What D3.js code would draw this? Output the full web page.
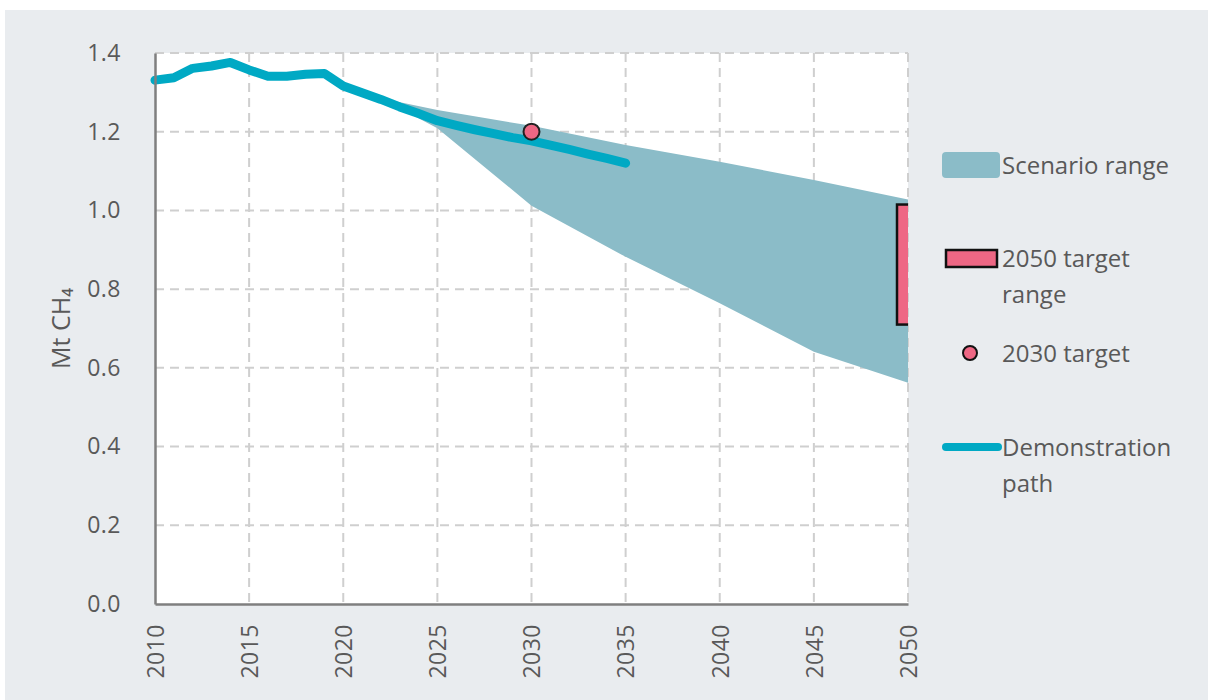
<!DOCTYPE html>
<meta charset="utf-8">
<style>
body {
  margin: 0px;
  background-color: white;
}
svg text {
  font-family: "Open Sans", sans-serif;
  fill: #595959;
}
.grid line {
  stroke: #cfcfcf;
  stroke-width: 2px;
  stroke-dasharray: 9 6;
}
.demo {
  fill: none;
  stroke: #00a9c4;
  stroke-width: 9px;
  stroke-linecap: round;
  stroke-linejoin: round;
}
</style>
<svg width="1208" height="700"></svg>
<script src="https://cdn.jsdelivr.net/npm/d3@7"></script>
<script>

// demonstration path, one value per year
var demoYears = [2010, 2011, 2012, 2013, 2014, 2015, 2016, 2017, 2018, 2019, 2020, 2021, 2022,
                 2023, 2024, 2025, 2026, 2027, 2028, 2029, 2030, 2031, 2032, 2033, 2034, 2035];
var demoValues = [1.331, 1.337, 1.361, 1.367, 1.376, 1.357, 1.341, 1.341, 1.346, 1.348, 1.316, 1.299, 1.282,
                  1.263, 1.246, 1.228, 1.216, 1.205, 1.195, 1.185, 1.177, 1.166, 1.155, 1.143, 1.132, 1.12];

// scenario range
var bandYears = [2022, 2025, 2030, 2035, 2040, 2045, 2050];
var bandLow  = [1.285, 1.209, 1.012, 0.882, 0.764, 0.641, 0.562];
var bandHigh = [1.285, 1.255, 1.215, 1.166, 1.124, 1.077, 1.028];

// targets
var target2030 = {year: 2030, value: 1.2};
var target2050 = {year: 2050, low: 0.71, high: 1.015};

var xTicks = [2010, 2015, 2020, 2025, 2030, 2035, 2040, 2045, 2050];
var yTicks = [0.0, 0.2, 0.4, 0.6, 0.8, 1.0, 1.2, 1.4];

var legendLabels = [["Scenario range"], ["2050 target", "range"], ["2030 target"], ["Demonstration", "path"]];

var bandColor = "#8bbcc8",
    demoColor = "#00a9c4",
    pinkColor = "#ee6784";

var svg = d3.select("svg"),
    margin = {top: 53, right: 300, bottom: 96, left: 155},
    width = svg.attr("width") - margin.left - margin.right,
    height = svg.attr("height") - margin.top - margin.bottom;

// grey panel behind everything
svg.append("rect")
    .attr("x", 5).attr("y", 10)
    .attr("width", 1203).attr("height", 690)
    .attr("fill", "#e9ecef");

var g = svg.append("g").attr("transform", "translate(" + margin.left + "," + margin.top + ")");

g.append("rect")
    .attr("width", width)
    .attr("height", height)
    .attr("fill", "white");

svg.append("defs").append("clipPath").attr("id", "plotclip")
  .append("rect").attr("width", width).attr("height", height);

var x = d3.scaleLinear().domain([2010, 2050]).range([0, width]),
    y = d3.scaleLinear().domain([0, 1.4]).range([height, 0]);

// dashed grid
var grid = g.append("g").attr("class", "grid");
grid.selectAll(".vg").data(xTicks.slice(1)).enter().append("line")
    .attr("x1", function(d) { return x(d); }).attr("x2", function(d) { return x(d); })
    .attr("y1", 0).attr("y2", height);
grid.selectAll(".hg").data(yTicks.slice(1)).enter().append("line")
    .attr("x1", 0).attr("x2", width)
    .attr("y1", function(d) { return y(d); }).attr("y2", function(d) { return y(d); });

var plot = g.append("g").attr("clip-path", "url(#plotclip)");

// scenario band
var band = bandYears.map(function(yr, i) { return {year: yr, low: bandLow[i], high: bandHigh[i]}; });
var area = d3.area()
    .x(function(d) { return x(d.year); })
    .y0(function(d) { return y(d.low); })
    .y1(function(d) { return y(d.high); });
plot.append("path")
    .datum(band)
    .attr("d", area)
    .attr("fill", bandColor);

// 2050 target range (half of it sits past the edge and gets clipped)
plot.append("rect")
    .attr("x", x(target2050.year) - 11)
    .attr("width", 22)
    .attr("y", y(target2050.high))
    .attr("height", y(target2050.low) - y(target2050.high))
    .attr("fill", pinkColor)
    .attr("stroke", "#111")
    .attr("stroke-width", 2.5);

// demonstration path
var demo = demoYears.map(function(yr, i) { return {year: yr, value: demoValues[i]}; });
var line = d3.line()
    .x(function(d) { return x(d.year); })
    .y(function(d) { return y(d.value); });
g.append("path")
    .datum(demo)
    .attr("class", "demo")
    .attr("d", line);

g.append("circle")
    .attr("cx", x(target2030.year))
    .attr("cy", y(target2030.value))
    .attr("r", 8)
    .attr("fill", pinkColor)
    .attr("stroke", "#222")
    .attr("stroke-width", 2);

// axes
var xAxis = g.append("g")
    .attr("transform", "translate(0," + height + ")")
    .call(d3.axisBottom(x).tickValues(xTicks).tickFormat(d3.format("d")).tickSize(0).tickPadding(0));
xAxis.select(".domain").attr("stroke", "#7f7f7f").attr("stroke-width", 2.5);
xAxis.selectAll("text")
    .attr("transform", "rotate(-90)")
    .attr("x", -20)
    .attr("y", 0)
    .attr("dy", "0.36em")
    .style("text-anchor", "end")
    .style("font-size", "23px")
    .style("letter-spacing", "0.5px")
    .attr("fill", "#595959");

var yAxis = g.append("g")
    .call(d3.axisLeft(y).tickValues(yTicks).tickFormat(d3.format(".1f")).tickSize(0).tickPadding(34));
yAxis.select(".domain").attr("stroke", "#7f7f7f").attr("stroke-width", 2.5);
yAxis.selectAll("text")
    .style("font-size", "23px")
    .style("letter-spacing", "0.5px")
    .attr("fill", "#595959");

svg.append("text")
    .attr("transform", "translate(70," + (margin.top + height / 2) + ") rotate(-90)")
    .style("text-anchor", "middle")
    .style("font-size", "25px")
    .text("Mt CH₄");

// legend
var lg = svg.append("g").attr("transform", "translate(942,0)");
var legendY = [165, 258, 353, 447];

lg.append("rect")
    .attr("x", 0).attr("y", legendY[0] - 13)
    .attr("width", 58).attr("height", 26)
    .attr("rx", 4)
    .attr("fill", bandColor);
lg.append("rect")
    .attr("x", 4).attr("y", legendY[1] - 8)
    .attr("width", 51).attr("height", 17)
    .attr("fill", pinkColor)
    .attr("stroke", "#111")
    .attr("stroke-width", 2.5);
lg.append("circle")
    .attr("cx", 28).attr("cy", legendY[2])
    .attr("r", 7)
    .attr("fill", pinkColor)
    .attr("stroke", "#111")
    .attr("stroke-width", 2);
lg.append("line")
    .attr("x1", 4).attr("x2", 56)
    .attr("y1", legendY[3]).attr("y2", legendY[3])
    .attr("stroke", demoColor)
    .attr("stroke-width", 8)
    .attr("stroke-linecap", "round");

legendLabels.forEach(function(lines, i) {
  var t = lg.append("text")
      .attr("x", 60)
      .attr("y", legendY[i])
      .style("font-size", "24px");
  lines.forEach(function(s, j) {
    t.append("tspan").attr("x", 60).attr("dy", j === 0 ? "0.36em" : "1.5em").text(s);
  });
});

</script>
